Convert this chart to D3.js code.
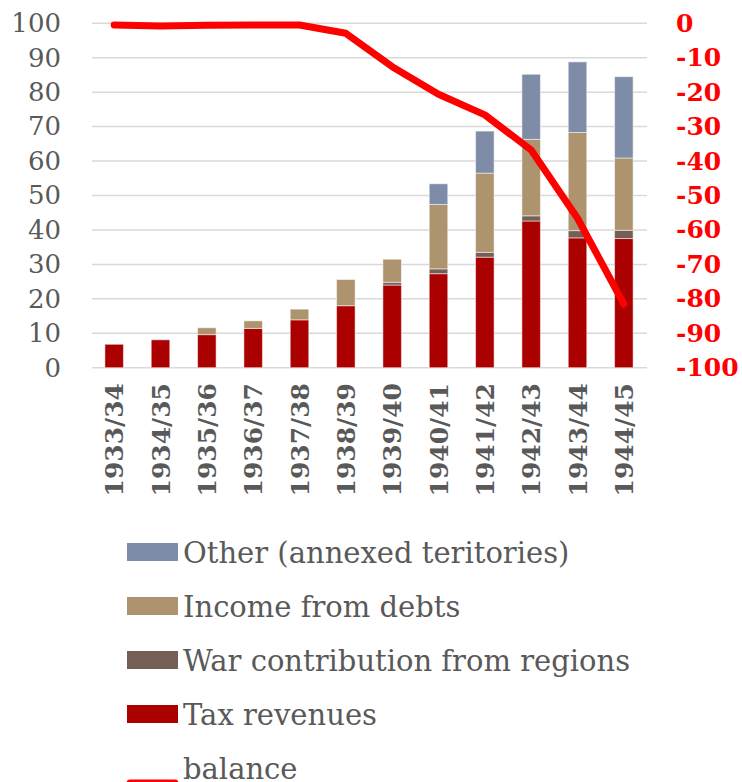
<!DOCTYPE html>
<html>
<head>
<meta charset="utf-8">
<script src="https://cdn.jsdelivr.net/npm/d3@7"></script>
<style>
  body { margin: 0; background: #fff; }
  svg { display: block; font-family: "DejaVu Serif", serif; }
</style>
</head>
<body>
<div id="chart"></div>
<script>
var years = ["1933/34", "1934/35", "1935/36", "1936/37", "1937/38", "1938/39",
             "1939/40", "1940/41", "1941/42", "1942/43", "1943/44", "1944/45"];
var taxRevenues = [6.8, 8.1, 9.6, 11.4, 13.9, 18.0, 24.0, 27.3, 32.1, 42.6, 37.7, 37.5];
var warContribution = [0, 0, 0, 0, 0, 0, 0.8, 1.4, 1.4, 1.5, 2.1, 2.4];
var incomeFromDebts = [0, 0, 2.0, 2.2, 3.1, 7.6, 6.7, 18.7, 23.0, 22.2, 28.5, 21.0];
var otherAnnexed = [0, 0, 0, 0, 0, 0, 0, 6.0, 12.2, 18.9, 20.5, 23.6];
var balance = [-0.5, -0.8, -0.6, -0.5, -0.5, -2.9, -12.6, -20.6, -26.6, -36.8, -56.6, -81.5];
var leftTicks = [0, 10, 20, 30, 40, 50, 60, 70, 80, 90, 100];
var rightTicks = [0, -10, -20, -30, -40, -50, -60, -70, -80, -90, -100];

var width = 742, height = 782;
var textGray = "#595959";

var keys = ["tax", "war", "debt", "other"];
var colors = { tax: "#ab0000", war: "#735f56", debt: "#ad946e", other: "#7f8ca7" };

var table = years.map(function (y, i) {
    return { year: y, tax: taxRevenues[i], war: warContribution[i],
             debt: incomeFromDebts[i], other: otherAnnexed[i], balance: balance[i] };
});

var svg = d3.select("#chart").append("svg")
    .attr("width", width)
    .attr("height", height);

var x = d3.scaleBand()
    .domain(years)
    .range([91, 647])
    .paddingInner(0.6)
    .paddingOuter(0.3);

var y = d3.scaleLinear().domain([0, 100]).range([367.7, 23.3]);
var y2 = d3.scaleLinear().domain([-100, 0]).range([367.7, 23.3]);

// gridlines
svg.append("g").selectAll("line")
    .data(leftTicks)
    .enter().append("line")
    .attr("x1", 92).attr("x2", 647)
    .attr("y1", function (d) { return y(d); })
    .attr("y2", function (d) { return y(d); })
    .attr("stroke", "#d9d9d9")
    .attr("stroke-width", 1.5);

// left axis
var leftAxis = svg.append("g")
    .attr("transform", "translate(61,0)")
    .call(d3.axisLeft(y).tickValues(leftTicks).tickSize(0).tickPadding(0)
        .tickFormat(function (d) { return String(d); }));
leftAxis.select(".domain").remove();
leftAxis.selectAll("text")
    .attr("fill", textGray)
    .style("font-size", "26px")
    .style("font-family", "DejaVu Serif");

// right axis (plain hyphen instead of d3's unicode minus)
var rightAxis = svg.append("g")
    .attr("transform", "translate(676,0)")
    .call(d3.axisRight(y2).tickValues(rightTicks).tickSize(0).tickPadding(0)
        .tickFormat(function (d) { return String(d); }));
rightAxis.select(".domain").remove();
rightAxis.selectAll("text")
    .attr("fill", "#ff0000")
    .style("font-size", "25px")
    .style("font-weight", "bold")
    .style("font-family", "DejaVu Serif");

// stacked bars
var series = d3.stack().keys(keys)(table);

svg.append("g").selectAll("g")
    .data(series)
    .enter().append("g")
    .attr("fill", function (d) { return colors[d.key]; })
    .selectAll("rect")
    .data(function (d) { return d.filter(function (p) { return p[1] - p[0] > 0; }); })
    .enter().append("rect")
    .attr("x", function (d) { return x(d.data.year); })
    .attr("width", x.bandwidth())
    .attr("y", function (d) { return y(d[1]); })
    .attr("height", function (d) { return y(d[0]) - y(d[1]); })
    .attr("stroke", "#ffffff")
    .attr("stroke-opacity", 0.5)
    .attr("stroke-width", 1);

// balance line
var line = d3.line()
    .x(function (d) { return x(d.year) + x.bandwidth() / 2; })
    .y(function (d) { return y2(d.balance); });

svg.append("path")
    .datum(table)
    .attr("d", line)
    .attr("fill", "none")
    .attr("stroke", "#ff0000")
    .attr("stroke-width", 7)
    .attr("stroke-linejoin", "round")
    .attr("stroke-linecap", "round");

// x labels
svg.append("g").selectAll("text")
    .data(years)
    .enter().append("text")
    .attr("transform", function (d) {
        return "translate(" + (x(d) + x.bandwidth() / 2) + ",383) rotate(-90)";
    })
    .attr("dy", "0.36em")
    .attr("text-anchor", "end")
    .attr("fill", textGray)
    .style("font-size", "25px")
    .style("font-weight", "bold")
    .text(function (d) { return d; });

// legend
var legendItems = [
    { label: "Other (annexed teritories)", key: "other" },
    { label: "Income from debts", key: "debt" },
    { label: "War contribution from regions", key: "war" },
    { label: "Tax revenues", key: "tax" },
    { label: "balance", key: "balance" }
];

var legend = svg.append("g").selectAll("g")
    .data(legendItems)
    .enter().append("g")
    .attr("transform", function (d, i) { return "translate(127," + (543 + i * 54) + ")"; });

legend.each(function (d) {
    var g = d3.select(this);
    if (d.key === "balance") {
        g.append("line")
            .attr("x1", 3).attr("x2", 48)
            .attr("y1", 24).attr("y2", 24)
            .attr("stroke", "#ff0000")
            .attr("stroke-width", 7)
            .attr("stroke-linecap", "round");
    } else {
        g.append("rect")
            .attr("width", 51).attr("height", 18)
            .attr("fill", colors[d.key]);
    }
});

legend.append("text")
    .attr("x", 56)
    .attr("y", 20)
    .attr("fill", textGray)
    .style("font-size", "29px")
    .text(function (d) { return d.label; });
</script>
</body>
</html>
